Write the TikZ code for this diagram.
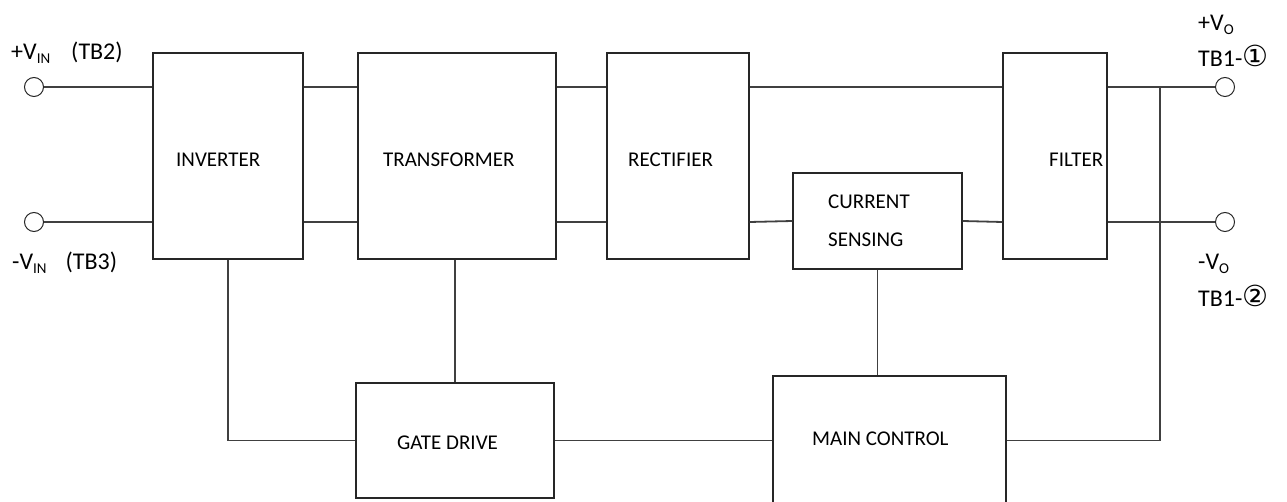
\documentclass[tikz,border=0pt]{standalone}
\usepackage{fontspec}
\setmainfont{Carlito}
\newfontfamily\circfont{DejaVu Sans}
\usetikzlibrary{positioning}
\newcommand{\lowsub}[1]{\raisebox{-0.3ex}{\fontsize{15}{15}\selectfont #1}}
\newcommand{\circnum}[1]{{\fontsize{29}{29}\circfont #1}}

\begin{document}
\begin{tikzpicture}[x=1pt, y=-1pt,
  blk/.style={draw, line width=1.3pt, black!85, inner sep=0pt},
  wire/.style={line width=1.8pt, black!75},
  term/.style={draw, circle, line width=1pt, black!85, minimum size=19pt, inner sep=0pt},
  txt/.style={anchor=base west, inner sep=0pt, font=\fontsize{21}{24}\selectfont},
  lbl/.style={anchor=base west, inner sep=0pt, font=\fontsize{24}{28}\selectfont}]
  \useasboundingbox (0,0) rectangle (1287,502);
  % power stages, centres given in sheet pixels (y runs down)
  \node[blk, minimum width=150pt, minimum height=206pt] (inv) at (228,156) {};
  \node[blk, minimum width=198pt, minimum height=206pt] (tr) at (457,156) {};
  \node[blk, minimum width=142pt, minimum height=206pt] (rect) at (678,156) {};
  \node[blk, minimum width=104pt, minimum height=206pt] (filt) at (1055,156) {};
  \node[blk, minimum width=169pt, minimum height=96pt] (cs) at (877.5,221) {};
  % control stages -- main control runs off the bottom of the sheet
  \node[blk, minimum width=198pt, minimum height=115pt] (gd) at (455,440.5) {};
  \node[blk, minimum width=233pt, minimum height=150pt] (mc) at (889.5,451) {};
  % box texts sit left of centre, as in the original sheet
  \node[txt] (invt) at (176,167) {INVERTER};
  \node[txt] (trt) at (383,167) {TRANSFORMER};
  \node[txt] (rectt) at (628,167) {RECTIFIER};
  \node[txt] (filtt) at (1049,167) {FILTER};
  \node[txt] (cst) at (828,209) {CURRENT};
  \node[txt] (cst2) at (828,247) {SENSING};
  \node[txt] (gdt) at (397,449) {GATE DRIVE};
  \node[txt] (mct) at (812,445) {MAIN CONTROL};
  % terminals
  \node[term] (vinp) at (34,87) {};
  \node[term] (vinn) at (34,222) {};
  \node[term] (voutp) at (1225,87) {};
  \node[term] (voutn) at (1225,222) {};
  \coordinate (tap) at (1160,87);
  \node[lbl] (vinpl) at (11,60) {+V\lowsub{IN}\hspace{21pt}(TB2)};
  \node[lbl] (vinnl) at (12,270) {-V\lowsub{IN}\hspace{19pt}(TB3)};
  \node[lbl] (voutpl) at (1198,31) {+V\lowsub{O}};
  \node[lbl] (tbonel) at (1198,67) {TB1-\circnum{①}};
  \node[lbl] (voutnl) at (1198,270) {-V\lowsub{O}};
  \node[lbl] (tbtwol) at (1198,307) {TB1-\circnum{②}};
  % + and - rails
  \draw[wire] (vinp) -- (vinp -| inv.west);
  \draw[wire] (vinn) -- (vinn -| inv.west);
  \draw[wire] (inv.east |- vinp) -- (tr.west |- vinp);
  \draw[wire] (inv.east |- vinn) -- (tr.west |- vinn);
  \draw[wire] (tr.east |- vinp) -- (rect.west |- vinp);
  \draw[wire] (tr.east |- vinn) -- (rect.west |- vinn);
  \draw[wire] (rect.east |- vinp) -- (filt.west |- vinp);
  \draw[wire] (rect.east |- vinn) -- (cs.west);
  \draw[wire] (cs.east) -- (filt.west |- vinn);
  \draw[wire] (filt.east |- voutp) -- (voutp);
  \draw[wire] (filt.east |- voutn) -- (voutn);
  % drive and feedback paths
  \draw[wire] (inv.south) |- (gd.west);
  \draw[wire] (tr.south -| gd.north) -- (gd.north);
  \draw[wire] (gd.east) -- (mc.west |- gd.east);
  \draw[wire] (cs.south) -- (cs.south |- mc.north);
  \draw[wire] (tap) -- (tap |- gd.east) -- (mc.east |- gd.east);
\end{tikzpicture}
\end{document}
